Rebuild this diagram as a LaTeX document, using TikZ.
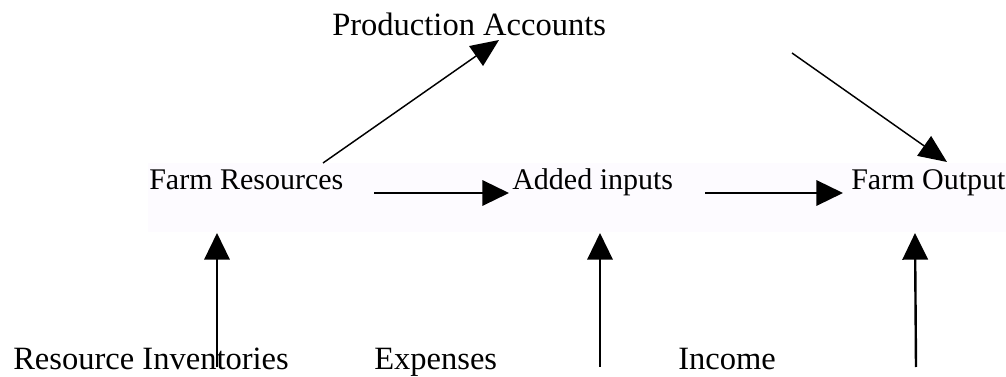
\documentclass[tikz,border=0pt]{standalone}
\usepackage{fontspec, tikz, xcolor}
\setmainfont{Liberation Serif}
\usetikzlibrary{arrows.meta, calc}
\definecolor{bandtint}{RGB}{253,251,255}

\begin{document}
\begin{tikzpicture}[x=0.75pt, y=-0.75pt,
  lbl/.style={anchor=base west, inner sep=0pt, font=\fontsize{24.4}{29}\selectfont},
  mid/.style={anchor=base west, inner sep=0pt, font=\fontsize{22.5}{27}\selectfont},
  flow/.style={-{Triangle[length=20pt, width=19pt]}, line width=1.8pt},
  slant/.style={-{Triangle[length=21pt, width=18pt]}, line width=1.1pt}]
\useasboundingbox (0,0) rectangle (1006,377);
\fill[bandtint] (148,163) rectangle (1006,232);
% labels
\node[lbl] (pa) at (332,36) {Production Accounts};
\node[mid] (fr) at (149,190) {Farm Resources};
\node[mid] (ai) at (512,190) {Added inputs};
\node[mid] (fo) at (851,190) {Farm Output};
\node[lbl] (ri) at (13,369) {Resource Inventories};
\node[lbl] (ex) at (374,369) {Expenses};
\node[lbl] (in) at (678,369) {Income};
% arrows
\draw[slant] ($(fr.base west)+(174,-27)$) -- ($(pa.base west)+(167,4)$);
\draw[slant] ($(pa.base west)+(460,17)$) -- ($(fo.base west)+(96,-28)$);
\draw[flow] ($(fr.base west)+(225,3)$) -- ($(ai.base west)+(-3,3)$);
\draw[flow] ($(ai.base west)+(193,3)$) -- ($(fo.base west)+(-8,3)$);
\draw[flow] ($(ri.base west)+(204,-2)$) -- ($(fr.base west)+(68,43)$);
\draw[flow] ($(ex.base west)+(226,-2)$) -- ($(ai.base west)+(88,43)$);
\draw[flow] ($(in.base west)+(238,-2)$) -- ($(fo.base west)+(64,43)$);
\end{tikzpicture}
\end{document}
